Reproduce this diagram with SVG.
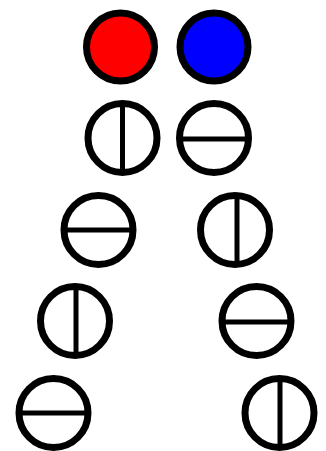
<svg xmlns="http://www.w3.org/2000/svg" width="326" height="451" viewBox="0 0 326 451">
<style>
.c{fill:none;stroke:#000;stroke-width:7}
.l{stroke:#000;stroke-width:5}
</style>
<rect width="326" height="451" fill="#fff"/>
<g id="red"><circle cx="120.5" cy="47" r="34" fill="#ff0000" stroke="#000" stroke-width="7"/></g>
<g id="blue"><circle cx="214" cy="47" r="34" fill="#0000ff" stroke="#000" stroke-width="7"/></g>
<g id="n1"><circle class="c" cx="122.5" cy="138" r="34.5"/><line class="l" x1="122.5" y1="104" x2="122.5" y2="172"/></g>
<g id="n2"><circle class="c" cx="214" cy="138" r="34.5"/><line class="l" x1="180" y1="139" x2="248" y2="139"/></g>
<g id="n3"><circle class="c" cx="98.5" cy="230" r="34.5"/><line class="l" x1="64.5" y1="230" x2="132.5" y2="230"/></g>
<g id="n4"><circle class="c" cx="235" cy="230" r="34.5"/><line class="l" x1="237" y1="196" x2="237" y2="264"/></g>
<g id="n5"><circle class="c" cx="75" cy="321" r="34.5"/><line class="l" x1="76" y1="287" x2="76" y2="355"/></g>
<g id="n6"><circle class="c" cx="256.5" cy="321" r="34.5"/><line class="l" x1="222.5" y1="322" x2="290.5" y2="322"/></g>
<g id="n7"><circle class="c" cx="53.5" cy="413" r="34.5"/><line class="l" x1="19.5" y1="413" x2="87.5" y2="413"/></g>
<g id="n8"><circle class="c" cx="279.5" cy="413" r="34.5"/><line class="l" x1="280" y1="379" x2="280" y2="447"/></g>
<g id="connectors"></g>
</svg>
